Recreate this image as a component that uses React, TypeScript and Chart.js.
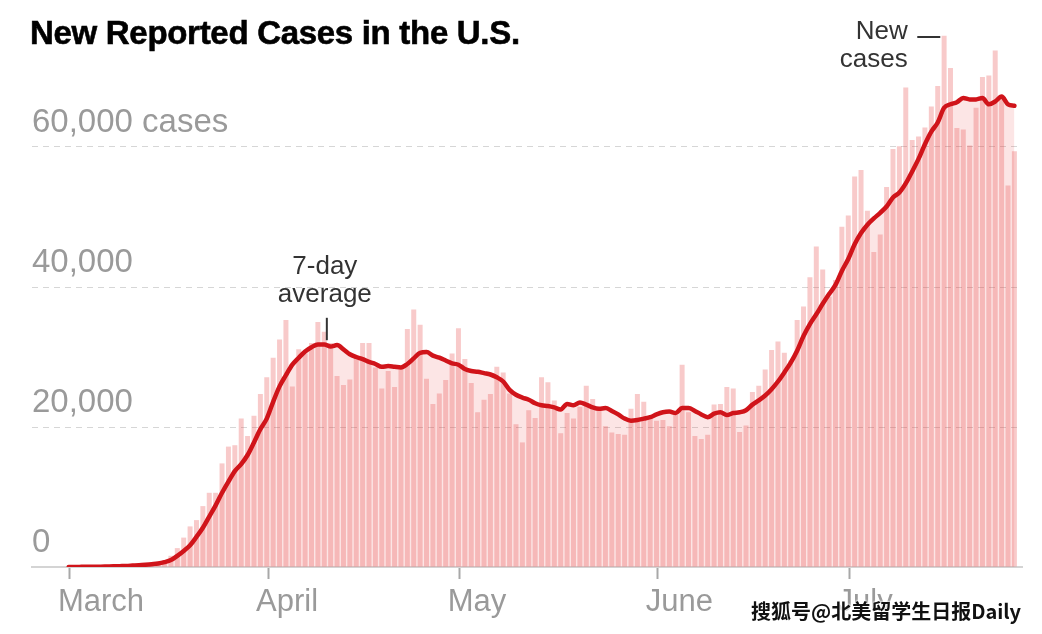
import React, { useEffect, useRef } from 'react';
import { Chart, registerables } from 'chart.js';

Chart.register(...registerables);

// Day 0 = March 1, 2020; one value per day through July 27
const newCases = [
  10, 10, 20, 30, 50, 60, 80, 100, 150, 200, 280, 350, 450, 600, 750, 950, 1600,
  2700, 4200, 5800, 6700, 8700, 10600, 10600, 14800, 17200, 17400, 21200, 18700, 21600, 24700,
  27100, 29900, 32500, 35300, 25800, 31100, 30500, 32000, 35000, 33600,
  32000, 27300, 26000, 26800, 30200, 32000, 32000, 28500, 25500, 28000,
  25700, 28800, 34000, 36800, 34600, 26900, 23300, 24800, 26700, 30500,
  34100, 29700, 26300, 22100, 23900, 24700, 28600, 27800, 24800, 20400,
  17800, 22400, 21300, 27100, 26400, 23800, 19100, 22000, 21200, 22900,
  25900, 24000, 22800, 20100, 19200, 19000, 18900, 22600, 24700, 23600,
  21400, 20900, 21000, 20100, 21800, 28900, 22100, 18700, 18300, 18900,
  23200, 23300, 25700, 25500, 19300, 20200, 25000, 25900, 28200, 31000,
  32200, 30600, 29500, 35300, 37200, 41400, 45800, 42500, 38600, 41000,
  48600, 50200, 55800, 56700, 50900, 45000, 47500, 54300, 59700, 60100,
  68500, 61000, 61500, 62800, 65800, 68700, 75900, 71300, 62700, 62500,
  60200, 65600, 70000, 70200, 73800, 67200, 54500, 59400,
];

const sevenDayAverage = [
  10, 10, 20, 30, 40, 50, 70, 90, 120, 150, 200, 250, 320,
  400, 500, 700, 1000, 1600, 2300, 3100, 4300,
  5600, 7200, 8800, 10600, 12200, 13700, 14700, 16000, 17800, 19700,
  21200, 23600, 25800, 27400, 28900, 29900, 30800, 31400, 31800, 31800,
  31500, 31700, 31100, 30400, 30000, 29700, 29300, 29000, 28600, 28700,
  28600, 28500, 29000, 29800, 30600, 30700, 30200, 29900, 29500, 29100,
  28900, 28300, 28000, 27900, 27700, 27500, 27100, 26500, 25300, 24600,
  24200, 23900, 23400, 23100, 23000, 22800, 22500, 23300, 23100, 23500,
  23200, 22800, 22600, 22700, 22300, 21800, 21200, 20900, 21000, 21200,
  21400, 21800, 22100, 22200, 22000, 22700, 22700, 22300, 21800, 21400,
  21900, 22100, 21700, 22000, 22100, 22400, 23200, 23800, 24500, 25400,
  26500, 27800, 29200, 30900, 33000, 34700, 36100, 37600, 39000, 40300,
  42300, 44000, 46100, 47700, 48900, 49800, 50600, 51500, 52800, 53500,
  54800, 56500, 58300, 60400, 62200, 63500, 65600, 66100, 66400, 67000,
  66800, 66800, 67000, 66100, 66500, 67200, 66100, 65900,
];

const monthTickDays = [0, 31, 61, 92, 122];
const monthTickLabels = ['March', 'April', 'May', 'June', 'July'];
const yTickValues = [0, 20000, 40000, 60000];
const yTickLabels = ['0', '20,000', '40,000', '60,000 cases'];

const FONT = '"Liberation Sans", Arial, sans-serif';

export default function App() {
  const canvasRef = useRef<HTMLCanvasElement | null>(null);

  useEffect(() => {
    const canvas = canvasRef.current;
    if (!canvas) return;

    const annotations = {
      id: 'annotations',
      afterDraw(chart: any) {
        const { ctx, scales } = chart;
        const x = scales.x;
        const y = scales.y;
        ctx.save();
        ctx.fillStyle = '#333';
        ctx.strokeStyle = '#333';
        ctx.font = `26px ${FONT}`;
        ctx.textBaseline = 'middle';
        // 7-day average label
        const ax = x.getPixelForValue(40.4);
        ctx.textAlign = 'center';
        ctx.fillText('7-day', ax - 2, 267);
        ctx.fillText('average', ax - 2, 295);
        ctx.lineWidth = 2;
        ctx.beginPath();
        ctx.moveTo(ax, y.getPixelForValue(35600));
        ctx.lineTo(ax, y.getPixelForValue(32400));
        ctx.stroke();
        // New cases label
        ctx.textAlign = 'right';
        const nx = x.getPixelForValue(131.3);
        ctx.fillText('New', nx, 32);
        ctx.fillText('cases', nx, 60);
        ctx.beginPath();
        ctx.moveTo(x.getPixelForValue(132.8), 37);
        ctx.lineTo(x.getPixelForValue(136.4), 37);
        ctx.stroke();
        ctx.restore();
      },
    };

    const chart = new Chart(canvas, {
      type: 'bar',
      data: {
        datasets: [
          {
            type: 'line',
            data: sevenDayAverage.map((v, i) => ({ x: i, y: v })),
            borderColor: '#d0141a',
            borderWidth: 4.5,
            pointRadius: 0,
            fill: 'origin',
            backgroundColor: 'rgba(232,72,72,0.14)',
            cubicInterpolationMode: 'monotone',
            borderCapStyle: 'round',
            borderJoinStyle: 'round',
            order: 0,
          } as any,
          {
            type: 'bar',
            data: newCases.map((v, i) => ({ x: i, y: v })),
            backgroundColor: 'rgba(232,72,72,0.29)',
            barPercentage: 0.78,
            categoryPercentage: 1,
            order: 1,
          } as any,
        ],
      },
      options: {
        animation: false,
        responsive: false,
        devicePixelRatio: 1,
        layout: { padding: { left: 32, right: 20, top: 21, bottom: 0 } },
        plugins: {
          legend: { display: false },
          tooltip: { enabled: false },
          filler: { drawTime: 'beforeDatasetsDraw' },
        } as any,
        scales: {
          x: {
            type: 'linear',
            min: -5.74,
            max: 149.19,
            offset: false,
            afterBuildTicks: (s: any) => {
              s.ticks = monthTickDays.map((d) => ({ value: d + 0.2 }));
            },
            afterFit: (s: any) => {
              s.height = 67;
            },
            ticks: {
              callback: (_v: any, i: number) => monthTickLabels[i],
              font: { family: FONT, size: 31 },
              color: '#9a9a9a',
              align: 'start',
              labelOffset: -12,
              padding: 5,
              maxRotation: 0,
              autoSkip: false,
            },
            grid: {
              offset: false,
              drawOnChartArea: false,
              drawTicks: true,
              tickLength: 12,
              tickColor: '#a8a8a8',
              tickWidth: 2,
              color: '#a8a8a8',
            },
            border: { display: true, color: '#d4d4d4', width: 2 },
          } as any,
          y: {
            type: 'linear',
            min: 0,
            max: 78000,
            afterBuildTicks: (s: any) => {
              s.ticks = yTickValues.map((v) => ({ value: v }));
            },
            afterFit: (s: any) => {
              s.width = 0;
            },
            ticks: {
              mirror: true,
              padding: 0,
              labelOffset: -24,
              callback: (_v: any, i: number) => yTickLabels[i],
              font: { family: FONT, size: 33 },
              color: '#9a9a9a',
              autoSkip: false,
            },
            grid: {
              drawTicks: false,
              color: (c: any) => (c.tick && c.tick.value === 0 ? 'rgba(0,0,0,0)' : '#d6d6d6'),
              lineWidth: 1,
            },
            border: { display: false, dash: [6, 5] },
          } as any,
        },
      },
      plugins: [annotations],
    });

    return () => chart.destroy();
  }, []);

  return (
    <div
      style={{
        position: 'fixed',
        left: 0,
        top: 0,
        width: 1042,
        height: 634,
        background: '#fff',
        overflow: 'hidden',
      }}
    >
      <canvas
        ref={canvasRef}
        width={1042}
        height={634}
        style={{ position: 'absolute', left: 0, top: 0, width: 1042, height: 634 }}
      />
      <div
        style={{
          position: 'absolute',
          left: 30,
          top: 16,
          fontFamily: FONT,
          fontWeight: 700,
          fontSize: 33,
          lineHeight: '33px',
          color: '#000',
          whiteSpace: 'nowrap',
          letterSpacing: -0.3,
          WebkitTextStroke: '0.6px #000',
        }}
      >
        New Reported Cases in the U.S.
      </div>
      <div
        style={{
          position: 'absolute',
          left: 751,
          top: 598,
          fontFamily: '"Noto Sans CJK SC", sans-serif',
          fontWeight: 700,
          fontSize: 20,
          lineHeight: '26px',
          color: '#111',
          whiteSpace: 'nowrap',
          textShadow: '0 0 2px #fff, 0 0 2px #fff, 0 0 3px #fff',
        }}
      >
        搜狐号@北美留学生日报Daily
      </div>
    </div>
  );
}
